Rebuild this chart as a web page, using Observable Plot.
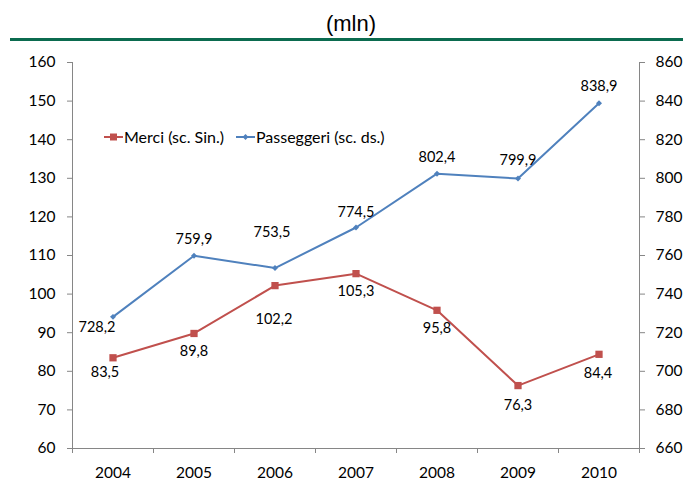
<!DOCTYPE html>
<html>
<head>
<meta charset="utf-8">
<script src="https://cdn.jsdelivr.net/npm/d3@7"></script>
<script src="https://cdn.jsdelivr.net/npm/@observablehq/plot@0.6"></script>
<style>
  body { margin: 0; background: #fff; width: 683px; height: 483px; overflow: hidden; position: relative; font-family: Lato, "Open Sans", sans-serif; }
  #head { position: relative; height: 45px; }
  #title { position: absolute; left: 0; width: 702px; top: 11px; text-align: center; font: 22px "Liberation Sans", Arial, sans-serif; color: #000; }
  #rule { position: absolute; left: 10px; right: 0; top: 38px; height: 3px; background: #0b6b4f; }
  .leg { position: absolute; top: 127px; font-size: 16px; color: #000; white-space: nowrap; line-height: 20px; }
  .leg svg { position: absolute; top: 0; }
</style>
</head>
<body>
<div id="head"><div id="title">(mln)</div><div id="rule"></div></div>
<div id="chart"></div>
<script>
// Annual traffic: goods (left scale) and passengers (right scale), in millions
const years = [2004, 2005, 2006, 2007, 2008, 2009, 2010];
const merci = [83.5, 89.8, 102.2, 105.3, 95.8, 76.3, 84.4];
const passeggeri = [728.2, 759.9, 753.5, 774.5, 802.4, 799.9, 838.9];
const leftTicks = [60, 70, 80, 90, 100, 110, 120, 130, 140, 150, 160];
const rightTicks = [660, 680, 700, 720, 740, 760, 780, 800, 820, 840, 860];
const seriesNames = ["Merci (sc. Sin.)", "Passeggeri (sc. ds.)"];

// label nudges (px) so value labels sit clear of the lines
const merciNudge = [[-8, 15], [0, 18], [-1, 34], [0, 18], [0, 18], [0, 20], [-1, 19]];
const passNudge = [[-16, 10], [0, -16], [-3, -36], [0, -15], [0, -16], [0, -18], [0, -17]];

const red = "#C0504D", blue = "#4F81BD", axisGray = "#868686";

// right scale 660–860 is drawn onto the left scale 60–160
const toLeft = p => 60 + (p - 660) / 2;
const fromLeft = v => Math.round((v - 60) * 2 + 660);
const fmt = v => v.toFixed(1).replace(".", ",");

const merciRows = years.map((year, i) => ({year, v: merci[i]}));
const passRows = years.map((year, i) => ({year, v: toLeft(passeggeri[i]), raw: passeggeri[i]}));
const bounds = d3.range(years.length + 1).map(i => years[0] - 0.5 + i);

const plot = Plot.plot({
  width: 683,
  height: 438,
  marginTop: 17,
  marginBottom: 35,
  marginLeft: 72,
  marginRight: 44,
  style: {fontFamily: "Lato, 'Open Sans', sans-serif", fontSize: "15.5px", color: "#000", background: "#fff"},
  x: {type: "linear", domain: [bounds[0], bounds[bounds.length - 1]]},
  y: {domain: [60, 160]},
  marks: [
    Plot.ruleX([bounds[0], bounds[bounds.length - 1]], {stroke: axisGray}),
    Plot.ruleY([60], {stroke: axisGray}),
    Plot.axisY(leftTicks, {anchor: "left", tickSize: 5, tickPadding: 12, stroke: axisGray, fill: "#000", label: null}),
    Plot.axisY(rightTicks.map(toLeft), {anchor: "right", tickSize: 5, tickPadding: 11, stroke: axisGray, fill: "#000", tickFormat: fromLeft, label: null}),
    Plot.axisX(bounds, {anchor: "bottom", tickSize: 5, stroke: axisGray, tickFormat: () => "", label: null}),
    Plot.axisX(years, {anchor: "bottom", tickSize: 0, tickPadding: 18, fill: "#000", tickFormat: d => String(d), label: null}),
    Plot.line(passRows, {x: "year", y: "v", stroke: blue, strokeWidth: 2}),
    Plot.dot(passRows, {x: "year", y: "v", symbol: "diamond2", r: 2.7, fill: blue, stroke: null}),
    Plot.line(merciRows, {x: "year", y: "v", stroke: red, strokeWidth: 2}),
    Plot.dot(merciRows, {x: "year", y: "v", symbol: "square", r: 4.1, fill: red, stroke: null}),
    ...merciRows.map((d, i) => Plot.text([d], {x: "year", y: "v", text: r => fmt(r.v), dx: merciNudge[i][0], dy: merciNudge[i][1], fontSize: 14.5, fill: "#000"})),
    ...passRows.map((d, i) => Plot.text([d], {x: "year", y: "v", text: r => fmt(r.raw), dx: passNudge[i][0], dy: passNudge[i][1], fontSize: 14.5, fill: "#000"}))
  ]
});
document.getElementById("chart").appendChild(plot);

// legend inside the plot area
function legendItem(left, color, symbol, name) {
  const el = document.createElement("div");
  el.className = "leg";
  el.style.left = left + "px";
  const s = d3.create("svg").attr("width", 20).attr("height", 20).style("left", "0px");
  s.append("line").attr("x1", 0).attr("x2", 19).attr("y1", 10).attr("y2", 10).attr("stroke", color).attr("stroke-width", 2);
  s.append("path").attr("transform", "translate(9.5,10)").attr("d", d3.symbol(symbol[0], symbol[1])()).attr("fill", color);
  el.appendChild(s.node());
  const t = document.createElement("span");
  t.style.marginLeft = "20px";
  t.textContent = name;
  el.appendChild(t);
  document.body.appendChild(el);
}
legendItem(104, red, [d3.symbolSquare, 49], seriesNames[0]);
legendItem(236, blue, [d3.symbolDiamond2, 22], seriesNames[1]);
</script>
</body>
</html>
